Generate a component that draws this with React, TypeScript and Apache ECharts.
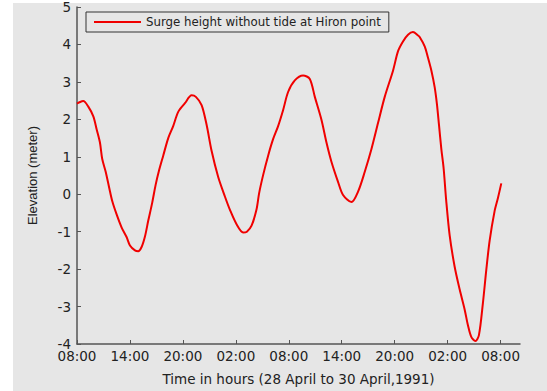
import React, { useEffect, useRef } from "react";
import * as echarts from "echarts";

const hours = [
  0, 0.15, 0.71, 1.28, 1.85, 2.23, 2.6, 2.86, 3.25, 3.66, 4.0, 4.49, 5.06, 5.63, 6.0, 6.57, 6.94, 7.32, 7.7, 8.07,
  8.52, 8.91, 9.28, 9.77, 10.34, 10.9, 11.47, 12.23, 12.99, 13.47, 14.12, 14.68, 15.25, 16.0, 16.76, 17.32, 18.08,
  18.83, 19.25, 19.78, 20.34, 20.64, 21.09, 21.66, 22.22, 22.79, 23.36, 23.92, 24.68, 25.62, 26.38, 26.95, 27.7,
  28.27, 28.84, 29.58, 30.15, 31.1, 31.85, 32.61, 33.36, 34.11, 34.87, 35.81, 36.38, 36.94, 37.51, 38.07, 38.64,
  38.83, 39.4, 39.77, 40.16, 40.53, 40.79, 41.02, 41.29, 41.55, 41.83, 42.23, 42.79, 43.36, 43.92, 44.3, 44.68,
  45.14, 45.54, 46.0, 46.38, 46.76, 47.32, 47.7, 48.08,
];
const surge = [
  2.42, 2.44, 2.49, 2.34, 2.08, 1.73, 1.38, 0.94, 0.6, 0.16, -0.19, -0.54, -0.89, -1.15, -1.37, -1.5, -1.52, -1.41,
  -1.13, -0.71, -0.23, 0.25, 0.62, 1.03, 1.5, 1.82, 2.2, 2.43, 2.64, 2.6, 2.38, 1.86, 1.16, 0.46, -0.06, -0.41, -0.8,
  -1.02, -1.0, -0.84, -0.41, 0.03, 0.51, 1.03, 1.47, 1.82, 2.25, 2.73, 3.04, 3.17, 3.08, 2.6, 1.99, 1.38, 0.86, 0.33,
  -0.02, -0.21, 0.07, 0.6, 1.2, 1.9, 2.6, 3.3, 3.82, 4.08, 4.26, 4.33, 4.24, 4.2, 3.95, 3.65, 3.3, 2.86, 2.4, 1.85,
  1.2, 0.68, -0.15, -1.1, -1.93, -2.54, -3.07, -3.5, -3.81, -3.92, -3.77, -2.9, -2.02, -1.24, -0.45, -0.1, 0.29,
];
const tickHours = [0, 6, 12, 18, 24, 30, 36, 42, 48];
const tickLabels = ["08:00", "14:00", "20:00", "02:00", "08:00", "14:00", "20:00", "02:00", "08:00"];
const seriesName = "Surge height without tide at Hiron point";

export default function App() {
  const ref = useRef<HTMLDivElement>(null);
  useEffect(() => {
    document.body.style.margin = "0";
    const chart = echarts.init(ref.current!, null, { renderer: "svg" });
    const wide = "DejaVu Sans, Verdana, sans-serif";
    const narrow = "Liberation Sans, Arial, sans-serif";
    chart.setOption({
      animation: false,
      backgroundColor: "#ffffff",
      graphic: [
        {
          type: "rect",
          z: -10,
          silent: true,
          shape: { x: 13, y: 3, width: 534, height: 388 },
          style: { fill: "#e6e6e6" },
        },
      ],
      legend: {
        left: 86,
        top: 12,
        padding: [4, 8, 4, 8],
        borderColor: "#333",
        borderWidth: 1,
        icon: "rect",
        itemWidth: 47,
        itemHeight: 2,
        itemGap: 6,
        textStyle: { fontFamily: wide, fontSize: 11.8, color: "#222" },
        data: [seriesName],
      },
      grid: { left: 77, right: 27, top: 5, bottom: 42 },
      xAxis: {
        type: "value",
        min: 0,
        max: 50.2,
        interval: 6,
        name: "Time in hours (28 April to 30 April,1991)",
        nameLocation: "middle",
        nameGap: 28,
        nameTextStyle: { fontFamily: wide, fontSize: 13.5, color: "#222" },
        axisLine: { onZero: false, lineStyle: { color: "#555", width: 1.5 } },
        axisTick: { inside: true, length: 4, lineStyle: { color: "#555" }, customValues: tickHours },
        axisLabel: {
          fontFamily: wide,
          fontSize: 13.5,
          color: "#222",
          margin: 5,
          customValues: tickHours,
          formatter: (v: number) => {
            const i = tickHours.indexOf(Math.round(v));
            return i >= 0 ? tickLabels[i] : "";
          },
        },
        splitLine: { show: false },
      },
      yAxis: {
        type: "value",
        min: -4,
        max: 5,
        interval: 1,
        name: "Elevation (meter)",
        nameLocation: "middle",
        nameGap: 38,
        nameTextStyle: { fontFamily: narrow, fontSize: 13, color: "#222" },
        axisLine: { show: true, onZero: false, lineStyle: { color: "#555", width: 1.5 } },
        axisTick: { show: true, inside: true, length: 4, lineStyle: { color: "#555" } },
        axisLabel: { fontFamily: wide, fontSize: 13.5, color: "#222", margin: 6 },
        splitLine: { show: false },
      },
      series: [
        {
          name: seriesName,
          type: "line",
          data: hours.map((h, i) => [h, surge[i]]),
          showSymbol: false,
          symbol: "none",
          smooth: 0.3,
          lineStyle: { color: "#f00000", width: 2 },
          itemStyle: { color: "#f00000" },
        },
      ],
    });
    return () => chart.dispose();
  }, []);
  return <div ref={ref} style={{ width: 547, height: 391, position: "fixed", left: 0, top: 0 }} />;
}
